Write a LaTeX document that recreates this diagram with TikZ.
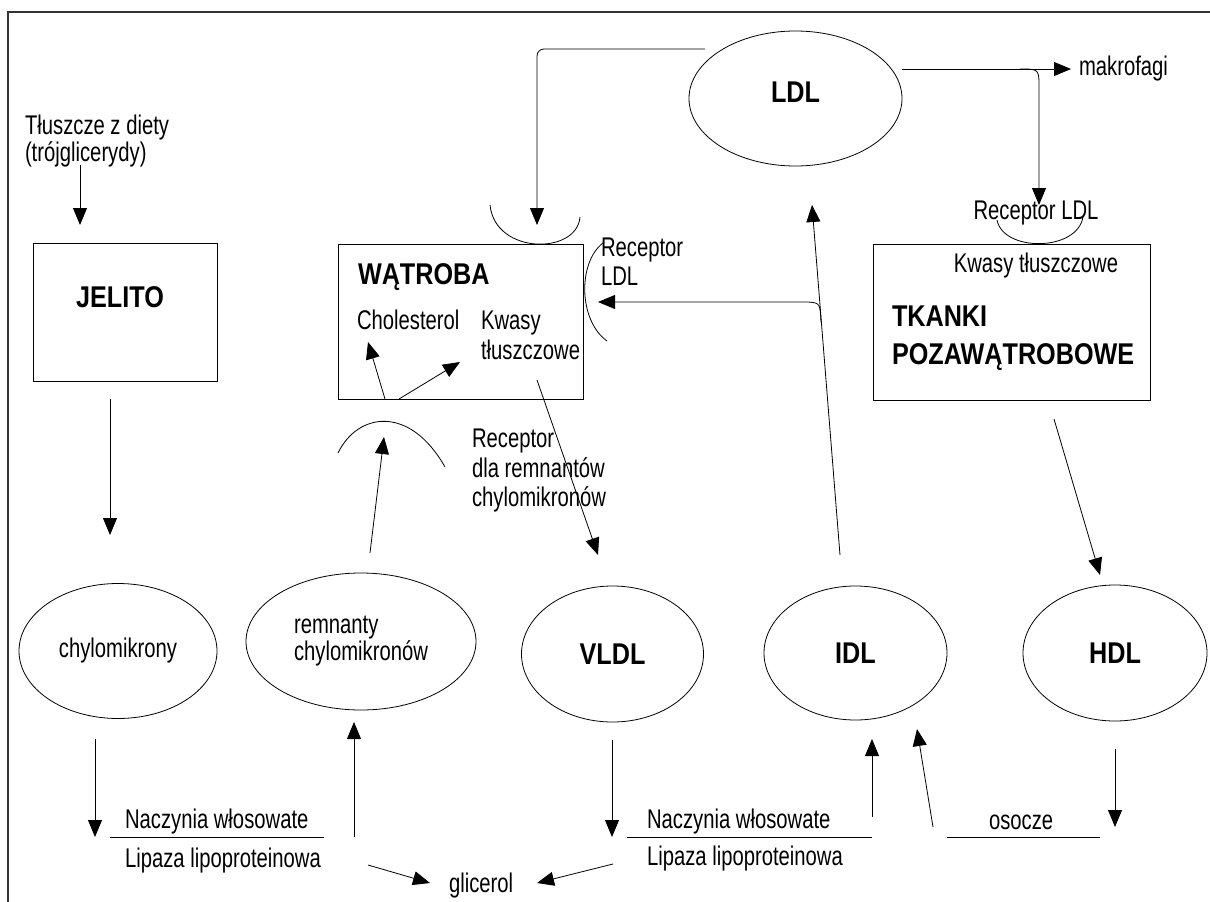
\documentclass[tikz,border=0pt]{standalone}
\usepackage{fontspec}
\setmainfont{Liberation Sans}[FakeStretch=0.75]
\newfontfamily\headfont{Liberation Sans}[FakeStretch=0.84]
\usetikzlibrary{shapes.geometric,arrows.meta}

\begin{document}
\begin{tikzpicture}[x=1pt, y=-1pt,
    every node/.style={inner sep=0pt, outer sep=0pt},
    txt/.style={font=\fontsize{27}{29}\selectfont, align=left},
    head/.style={font=\headfont\bfseries\fontsize{30}{38}\selectfont, align=left},
    organ/.style={draw, line width=0.9pt},
    lipo/.style={draw, ellipse, line width=0.8pt},
    cup/.style={line width=0.8pt},
    arr/.style={-{Triangle[length=17pt,width=14pt]}, line width=0.8pt}]
  \useasboundingbox (0,0) rectangle (1210,902);
  % frame (left and top edge only)
  \draw[line width=1.2pt, black!80] (8,902) -- (8,12) -- (1210,12);

  % organs
  \node[organ, minimum width=184pt, minimum height=138pt] (jelito) at (125,312) {};
  \node[organ, minimum width=245pt, minimum height=155pt] (watroba) at (460.5,321.5) {};
  \node[organ, minimum width=277pt, minimum height=156pt] (tkanki) at (1011.5,322) {};
  \node[head] (jelitoT) at (120,297) {JELITO};
  \node[head, anchor=west] (watrobaT) at (358,277) {WĄTROBA};
  \node[head, anchor=west] (tkankiT) at (892,338) {TKANKI\\POZAWĄTROBOWE};

  % lipoproteins
  \node[lipo, head, minimum width=213pt, minimum height=135pt, text depth=12pt] (ldl) at (795.5,98.5) {LDL};
  \node[lipo, txt, minimum width=198pt, minimum height=135pt] (chylo) at (118,651) {chylomikrony};
  \node[lipo, txt, font=\fontsize{27}{27}\selectfont, minimum width=230pt, minimum height=137pt] (remn) at (361,641.5) {remnanty\\chylomikronów};
  \node[lipo, head, minimum width=182pt, minimum height=136pt] (vldl) at (612.5,654) {VLDL};
  \node[lipo, head, minimum width=183pt, minimum height=134pt] (idl) at (855.5,653) {IDL};
  \node[lipo, head, minimum width=184pt, minimum height=136pt] (hdl) at (1115,653) {HDL};

  % labels
  \node[txt, font=\fontsize{27}{27}\selectfont, anchor=west] (diet) at (25,141) {Tłuszcze z diety\\(trójglicerydy)};
  \node[txt, anchor=west] (makro) at (1079,69) {makrofagi};
  \node[txt] (recT) at (1036,213) {Receptor LDL};
  \node[txt] (kwasyT) at (1036,266) {Kwasy tłuszczowe};
  \node[txt, anchor=west] (recW) at (601,262) {Receptor\\LDL};
  \node[txt, anchor=west] (chol) at (357,320) {Cholesterol};
  \node[txt, font=\fontsize{27}{30}\selectfont, anchor=west] (kwasyW) at (481,335) {Kwasy\\tłuszczowe};
  \node[txt, font=\fontsize{27}{29.5}\selectfont, anchor=west] (recR) at (472,471) {Receptor\\dla remnantów\\chylomikronów};
  \node[txt, anchor=west] (nacz1) at (125,822) {Naczynia włosowate};
  \node[txt, anchor=west] (lip1) at (125,861) {Lipaza lipoproteinowa};
  \node[txt, anchor=west] (nacz2) at (647,822) {Naczynia włosowate};
  \node[txt, anchor=west] (lip2) at (647,859) {Lipaza lipoproteinowa};
  \node[txt, anchor=west] (osocze) at (989,822) {osocze};
  \node[txt, anchor=west] (glic) at (449,886) {glicerol};

  % receptor cups
  \draw[cup] (490,205) .. controls (495,255) and (577,255) .. (580,217);
  \draw[cup] (997,220) .. controls (1003,252) and (1077,252) .. (1083,217);
  \draw[cup] (603,243) .. controls (578,262) and (578,320) .. (607,341);
  \draw[cup] (338,453) .. controls (358,412) and (410,405) .. (445,467);

  % top part
  \draw[arr] (80,165) -- (80,225);
  \draw[arr] (110,399) -- (110,535);
  \draw[arr, rounded corners=7pt] (705,49) -- (537,49) -- (537,225);
  \draw[arr] (902,69) -- (1071,69);
  \draw[arr] (1020,69) .. controls (1039,69) .. (1039,88) -- (1039,205);
  \draw[arr] (840,555) -- (812,205);
  \draw[arr] (821,322) .. controls (820,303) .. (808,302) -- (598,302);
  \draw[arr] (385,399) -- (368,342);
  \draw[arr] (399,399) -- (460,362);
  \draw[arr] (537,380) -- (598,555);
  \draw[arr] (370,553) -- (384,437);
  \draw[arr] (1054,419) -- (1100,575);

  % bottom part
  \draw[arr] (95,739) -- (95,837);
  \draw[arr] (354,837) -- (354,722);
  \draw[arr] (368,865) -- (430,883);
  \draw[arr] (613,864) -- (537,883);
  \draw[arr] (612,740) -- (612,837);
  \draw[arr] (872,817) -- (872,739);
  \draw[arr] (933,827) -- (917,729);
  \draw[arr] (1115,749) -- (1115,827);
  \draw[line width=0.8pt] (110,837) -- (324,837);
  \draw[line width=0.8pt] (627,837) -- (872,837);
  \draw[line width=0.8pt] (947,837) -- (1100,837);
\end{tikzpicture}
\end{document}
